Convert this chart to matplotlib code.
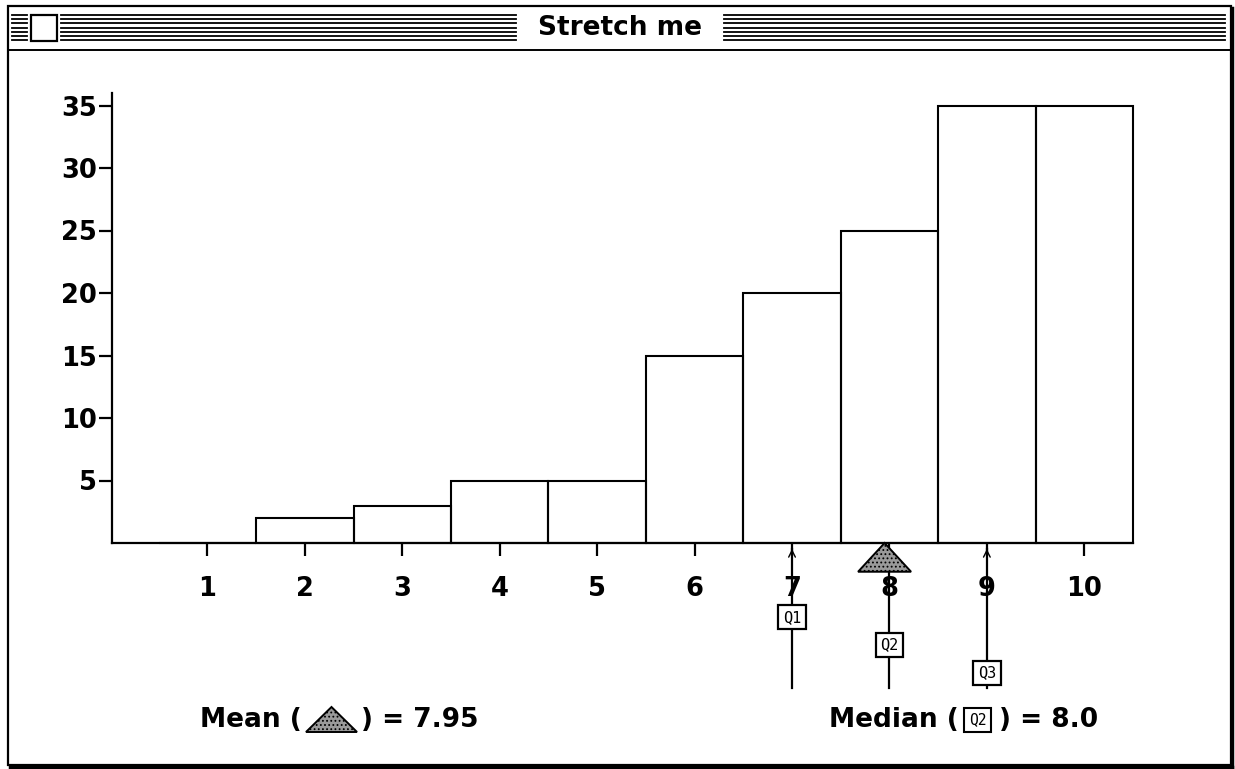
import matplotlib
matplotlib.use("Agg")
import matplotlib.pyplot as plt
from matplotlib.patches import Polygon, Rectangle

# data
categories = [1, 2, 3, 4, 5, 6, 7, 8, 9, 10]
counts = [0, 2, 3, 5, 5, 15, 20, 25, 35, 35]
yticks = [5, 10, 15, 20, 25, 30, 35]
quartile_names = ["Q1", "Q2", "Q3"]
quartile_values = [7, 8, 9]
mean_value = 7.95
median_value = 8.0
title = "Stretch me"

W, H = 1235, 769
plt.rcParams["font.family"] = ["DejaVu Sans"]
plt.rcParams["font.weight"] = "bold"
plt.rcParams["hatch.linewidth"] = 0.8

fig = plt.figure(figsize=(W / 100, H / 100), dpi=100)

# window chrome, drawn in pixel coords
frame = fig.add_axes([0, 0, 1, 1])
frame.set_xlim(0, W); frame.set_ylim(H, 0); frame.axis("off")
frame.add_patch(Rectangle((8, 6), 1223, 759, fill=False, ec="black", lw=1.6))
frame.plot([1232, 1232], [8, 767], color="black", lw=2.5)
frame.plot([10, 1232], [767, 767], color="black", lw=2.5)
frame.plot([8, 1231], [50, 50], color="black", lw=1.4)
for y in [15, 19.2, 23.4, 27.6, 31.8, 36, 40]:
    frame.plot([12, 27], [y, y], color="black", lw=1.3)
    frame.plot([61, 516], [y, y], color="black", lw=1.3)
    frame.plot([724, 1225], [y, y], color="black", lw=1.3)
frame.add_patch(Rectangle((31, 15), 26, 26, fc="white", ec="black", lw=1.6, zorder=3))
frame.text(620, 28, title, ha="center", va="center", fontsize=19, fontweight="bold")

# main histogram axes
ax = fig.add_axes([112 / W, (H - 543) / H, (1133 - 112) / W, (543 - 93) / H])
ax.bar(categories, counts, width=1, fill=False, edgecolor="black", lw=1.5, clip_on=False)
ax.set_xlim(0.02, 10.5)
ax.set_ylim(0, 36)
ax.spines[["top", "right"]].set_visible(False)
ax.spines[["left", "bottom"]].set_linewidth(1.6)
ax.set_xticks(categories)
ax.set_yticks(yticks)
ax.tick_params(axis="both", direction="out", length=9.5, width=1.6, labelsize=18.5)
ax.tick_params(axis="x", pad=14)
ax.tick_params(axis="y", pad=1.5)
for lab in ax.get_xticklabels() + ax.get_yticklabels():
    lab.set_fontweight("bold")

# quartile markers below the axis
box_y = [-5.95, -8.15, -10.4]
for name, q, by in zip(quartile_names, quartile_values, box_y):
    ax.plot([q, q], [-0.5, -11.6], color="black", lw=1.6, clip_on=False, zorder=4)
    if name != "Q2":
        ax.annotate("", xy=(q, -0.25), xytext=(q, -1.4),
                    arrowprops=dict(arrowstyle="->", lw=1, color="black",
                                    mutation_scale=12), annotation_clip=False)
    ax.text(q, by, name, ha="center", va="center", fontsize=11,
            family="DejaVu Sans Mono", fontweight="normal", zorder=6,
            bbox=dict(boxstyle="square,pad=0.3", fc="white", ec="black", lw=1.6))

# mean triangle
half = 26.5 / 97.4
tri = Polygon([(mean_value, 0), (mean_value - half, -2.3), (mean_value + half, -2.3)],
              closed=True, fc="#9a9a9a", ec="black", lw=1.4, hatch="....",
              clip_on=False, zorder=5)
ax.add_patch(tri)

# legend lines at the bottom
frame.text(302, 720, "Mean (", ha="right", va="center", fontsize=19, fontweight="bold")
frame.add_patch(Polygon([(331.5, 707), (306, 732), (357, 732)], closed=True,
                        fc="#9a9a9a", ec="black", lw=1.4, hatch="...."))
frame.text(361, 720, f") = {mean_value:.2f}", ha="left", va="center", fontsize=19, fontweight="bold")

frame.text(959, 720, "Median (", ha="right", va="center", fontsize=19, fontweight="bold")
frame.text(977.5, 720, "Q2", ha="center", va="center", fontsize=10.5,
           family="DejaVu Sans Mono", fontweight="normal",
           bbox=dict(boxstyle="square,pad=0.3", fc="white", ec="black", lw=1.5))
frame.text(999, 720, f") = {median_value:.1f}", ha="left", va="center", fontsize=19, fontweight="bold")

fig.savefig("out.png", dpi=100)
